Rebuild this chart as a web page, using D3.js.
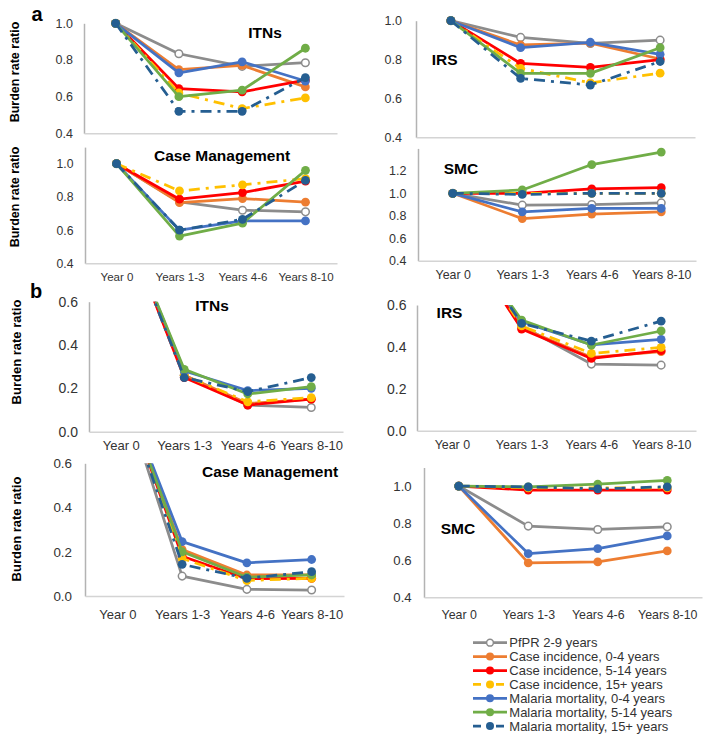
<!DOCTYPE html>
<html><head><meta charset="utf-8">
<script src="https://cdn.jsdelivr.net/npm/d3@7"></script>
<style>
body{margin:0;background:#fff}
svg{display:block}
text{font-family:"Liberation Sans",Arial,sans-serif}
</style>
</head><body><svg id="c" width="710" height="740"></svg>
<script>
// ---------- DATA ----------
const categories = ["Year 0", "Years 1-3", "Years 4-6", "Years 8-10"];
const seriesNames = ["PfPR 2-9 years", "Case incidence, 0-4 years", "Case incidence, 5-14 years",
  "Case incidence, 15+ years", "Malaria mortality, 0-4 years", "Malaria mortality, 5-14 years",
  "Malaria mortality, 15+ years"];
const seriesColors = ["#8c8c8c", "#ed7d31", "#ff0000", "#ffc000", "#4472c4", "#70ad47", "#255e91"];
const seriesDashed = [false, false, false, true, false, false, true];
const seriesOpen = [true, false, false, false, false, false, false];

// order of rows: PfPR, CI 0-4, CI 5-14, CI 15+, MM 0-4, MM 5-14, MM 15+
const aITNs = [
  [1, 0.834, 0.765, 0.785],
  [1, 0.747, 0.770, 0.653],
  [1, 0.644, 0.626, 0.690],
  [1, 0.620, 0.535, 0.593],
  [1, 0.730, 0.790, 0.685],
  [1, 0.600, 0.635, 0.864],
  [1, 0.520, 0.520, 0.704]];
const aIRS = [
  [1, 0.914, 0.883, 0.900],
  [1, 0.875, 0.885, 0.803],
  [1, 0.780, 0.760, 0.800],
  [1, 0.755, 0.680, 0.730],
  [1, 0.861, 0.889, 0.827],
  [1, 0.729, 0.729, 0.861],
  [1, 0.703, 0.669, 0.790]];
const aCM = [
  [1, 0.770, 0.720, 0.710],
  [1, 0.766, 0.790, 0.768],
  [1, 0.786, 0.826, 0.895],
  [1, 0.836, 0.873, 0.910],
  [1, 0.600, 0.655, 0.655],
  [1, 0.564, 0.642, 0.960],
  [1, 0.600, 0.665, 0.900]];
const aSMC = [
  [1, 0.895, 0.900, 0.915],
  [1, 0.775, 0.815, 0.835],
  [1, 1.000, 1.040, 1.050],
  [1, 1.000, 1.000, 1.000],
  [1, 0.835, 0.865, 0.865],
  [1, 1.030, 1.256, 1.367],
  [1, 0.990, 1.000, 1.000]];
const bITNs = [
  [1, 0.260, 0.123, 0.112],
  [1, 0.260, 0.130, 0.150],
  [1, 0.250, 0.123, 0.150],
  [1, 0.260, 0.138, 0.157],
  [1, 0.280, 0.190, 0.200],
  [1, 0.288, 0.174, 0.208],
  [1, 0.250, 0.185, 0.250]];
const bIRS = [
  [1, 0.500, 0.318, 0.313],
  [1, 0.490, 0.350, 0.377],
  [1, 0.485, 0.345, 0.382],
  [1, 0.500, 0.369, 0.398],
  [1, 0.520, 0.410, 0.436],
  [1, 0.528, 0.409, 0.476],
  [1, 0.512, 0.428, 0.523]];
const bCM = [
  [1, 0.090, 0.030, 0.027],
  [1, 0.210, 0.095, 0.095],
  [1, 0.180, 0.078, 0.080],
  [1, 0.170, 0.070, 0.080],
  [1, 0.246, 0.150, 0.165],
  [1, 0.200, 0.085, 0.095],
  [1, 0.143, 0.080, 0.110]];
const bSMC = [
  [1, 0.784, 0.766, 0.780],
  [1, 0.586, 0.591, 0.650],
  [1, 0.978, 0.978, 0.978],
  [1, 0.990, 0.990, 0.990],
  [1, 0.636, 0.663, 0.731],
  [1, 0.996, 1.010, 1.030],
  [1, 0.995, 0.985, 0.996]];

const ticksA = [0.4, 0.6, 0.8, 1.0];
const ticksSMC = [0.4, 0.6, 0.8, 1.0, 1.2];
const ticksB = [0.0, 0.2, 0.4, 0.6];

// ---------- LAYOUT ----------
const panels = [
  {data: aITNs, title: "ITNs", dom: [0.4, 1.0], ticks: ticksA, x: [84, 337], y: [133.3, 23.3],
   tfs: 12.5, tpad: 11, xl: false, title_xy: [265, 32], clip: false},
  {data: aIRS, title: "IRS", dom: [0.4, 1.0], ticks: ticksA, x: [416, 695], y: [137.3, 20.7],
   tfs: 12.5, tpad: 14, xl: false, title_xy: [444.7, 59], clip: false},
  {data: aCM, title: "Case Management", dom: [0.4, 1.1], ticks: ticksA, x: [85, 337], y: [263.3, 147.1],
   tfs: 12.2, tpad: 11.5, xl: true, xfs: 11.5, xpad: 9.5, title_xy: [222, 155], clip: false},
  {data: aSMC, title: "SMC", dom: [0.4, 1.4], ticks: ticksSMC, x: [418, 696], y: [260.7, 148.4],
   tfs: 12.5, tpad: 11.5, xl: true, xfs: 12.4, xpad: 9.8, title_xy: [461, 168], clip: false},
  {data: bITNs, title: "ITNs", dom: [0.0, 0.6], ticks: ticksB, x: [89, 343], y: [431.7, 301.7],
   tfs: 14, tpad: 11, xl: true, xfs: 13, xpad: 8.6, title_xy: [212, 305], clip: true},
  {data: bIRS, title: "IRS", dom: [0.0, 0.6], ticks: ticksB, x: [417, 696], y: [430.7, 305],
   tfs: 14, tpad: 10.5, xl: true, xfs: 12.4, xpad: 9.8, title_xy: [449.5, 312.7], clip: true},
  {data: bCM, title: "Case Management", dom: [0.0, 0.6], ticks: ticksB, x: [85, 344], y: [596, 463.3],
   tfs: 13.4, tpad: 13, xl: true, xfs: 13, xpad: 13.8, title_xy: [270, 471.7], clip: true},
  {data: bSMC, title: "SMC", dom: [0.4, 1.1], ticks: ticksA, x: [424, 702], y: [597.3, 467.5],
   tfs: 13.2, tpad: 12.3, xl: true, xfs: 12.4, xpad: 13.3, title_xy: [458, 528.3], clip: false}
];

const svg = d3.select("#c");
const fmt = d3.format(".1f");
const dashPat = "11,6,3,6";

panels.forEach((p, pi) => {
  const x = d3.scalePoint().domain(categories).range(p.x).padding(0.5);
  const y = d3.scaleLinear().domain(p.dom).range(p.y);
  const g = svg.append("g");

  // y axis
  const ya = g.append("g").attr("transform", `translate(${p.x[0]},0)`)
    .call(d3.axisLeft(y).tickValues(p.ticks).tickFormat(fmt).tickSize(0).tickPadding(p.tpad));
  ya.select(".domain").attr("stroke", "#b3b3b3").attr("stroke-width", 1.5);
  ya.selectAll("text").attr("font-size", p.tfs).attr("fill", "#333")
    .attr("font-family", '"Liberation Sans",Arial,sans-serif');

  // x axis
  const xa = g.append("g").attr("transform", `translate(0,${p.y[0]})`)
    .call(d3.axisBottom(x).tickSize(0).tickPadding(p.xpad || 0).tickFormat(p.xl ? (d => d) : () => ""));
  xa.select(".domain").attr("stroke", "#d4d4d4").attr("stroke-width", 1.5);
  xa.selectAll("text").attr("font-size", p.xfs || 12).attr("fill", "#333")
    .attr("font-family", '"Liberation Sans",Arial,sans-serif');

  // clip for b panels
  const cid = "clip" + pi;
  svg.append("clipPath").attr("id", cid).append("rect")
    .attr("x", p.x[0] - 20).attr("y", p.y[1])
    .attr("width", p.x[1] - p.x[0] + 40).attr("height", p.y[0] - p.y[1] + 20);
  const plot = g.append("g");
  if (p.clip) plot.attr("clip-path", `url(#${cid})`);

  const line = d3.line().x((d, i) => x(categories[i])).y(d => y(d));
  p.data.forEach((vals, si) => {
    const sg = plot.append("g");
    sg.append("path").attr("d", line(vals)).attr("fill", "none")
      .attr("stroke", seriesColors[si]).attr("stroke-width", 2.75)
      .attr("stroke-dasharray", seriesDashed[si] ? dashPat : null)
      .attr("stroke-linejoin", "round");
    sg.selectAll("circle").data(vals).join("circle")
      .attr("cx", (d, i) => x(categories[i])).attr("cy", d => y(d))
      .attr("r", seriesOpen[si] ? 3.8 : 4.4)
      .attr("fill", seriesOpen[si] ? "#fff" : seriesColors[si])
      .attr("stroke", seriesColors[si]).attr("stroke-width", seriesOpen[si] ? 1.5 : 0);
  });

  // title
  g.append("text").attr("x", p.title_xy[0]).attr("y", p.title_xy[1]).attr("dy", "0.36em")
    .attr("text-anchor", "middle").attr("font-weight", "bold").attr("font-size", 15.5)
    .attr("fill", "#000").text(p.title);
});

// panel letters
svg.append("text").attr("x", 37).attr("y", 13.3).attr("dy", "0.36em").attr("text-anchor", "middle")
  .attr("font-weight", "bold").attr("font-size", 20).text("a");
svg.append("text").attr("x", 36).attr("y", 290.7).attr("dy", "0.36em").attr("text-anchor", "middle")
  .attr("font-weight", "bold").attr("font-size", 20).text("b");

// y axis titles
[[14, 72, 12.5], [14, 197, 12.5], [16.5, 352, 13], [16.5, 529, 13]].forEach(([cx, cy, fs]) => {
  svg.append("text").attr("transform", `translate(${cx},${cy}) rotate(-90)`)
    .attr("text-anchor", "middle").attr("dy", "0.36em").attr("font-weight", "bold")
    .attr("font-size", fs).attr("fill", "#000").text("Burden rate ratio");
});

// legend
const leg = svg.append("g");
seriesNames.forEach((name, si) => {
  const ly = 642.7 + si * 13.9;
  leg.append("line").attr("x1", 473).attr("x2", 507).attr("y1", ly).attr("y2", ly)
    .attr("stroke", seriesColors[si]).attr("stroke-width", 2.75)
    .attr("stroke-dasharray", seriesDashed[si] ? "8,6,3,6" : null);
  leg.append("circle").attr("cx", 490).attr("cy", ly).attr("r", seriesOpen[si] ? 3.4 : 4)
    .attr("fill", seriesOpen[si] ? "#fff" : seriesColors[si])
    .attr("stroke", seriesColors[si]).attr("stroke-width", seriesOpen[si] ? 1.5 : 0);
  leg.append("text").attr("x", 509.3).attr("y", ly).attr("dy", "0.36em")
    .attr("font-size", 13).attr("fill", "#333").text(name);
});
</script>
</body></html>
